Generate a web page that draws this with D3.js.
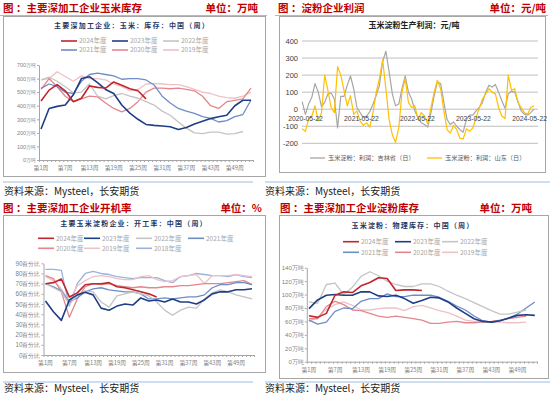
<!DOCTYPE html>
<html>
<head>
<meta charset="utf-8">
<script src="https://cdn.jsdelivr.net/npm/d3@7"></script>
<style>
  body { margin: 0; background: #fff; }
  svg { display: block; font-family: "Noto Sans CJK SC", "Noto Sans", sans-serif; }
</style>
</head>
<body>
<svg id="page" width="550" height="397"></svg>
<script>
// ---- data ----
// weekly charts: one value every two weeks (weeks 1,3,...,53)
const weeks = [1,3,5,7,9,11,13,15,17,19,21,23,25,27,29,31,33,35,37,39,41,43,45,47,49,51,53];
const weekTicks = [1, 7, 13, 19, 25, 31, 37, 43, 49];
const weekTickLabels = ['第1周','第7周','第13周','第19周','第25周','第31周','第37周','第43周','第49周'];

// 玉米库存 (万吨)
const cornStock2024 = [435,515,555,510,430,455,545,535,530,575,550,525,510,450,null,null,null,null,null,null,null,null,null,null,null,null,null];
const cornStock2023 = [228,380,395,405,480,600,614,570,520,490,405,345,300,262,255,250,245,225,240,265,285,305,318,330,400,440,440];
const cornStock2022 = [590,610,580,540,495,500,560,470,450,475,490,470,455,430,405,360,330,280,235,200,195,205,205,190,195,210,null];
const cornStock2021 = [528,560,540,500,490,580,630,640,630,620,595,600,600,590,553,470,420,380,360,344,320,307,280,290,320,335,442];
const cornStock2020 = [520,600,540,470,430,450,470,465,420,380,355,380,430,500,530,530,525,530,520,510,470,400,380,430,440,450,530];
const cornStock2019 = [590,600,650,615,580,620,600,600,590,560,540,510,520,560,565,560,555,555,540,520,500,490,470,460,455,470,500];

// 开机率 (%)
const rate2024 = [70,71,74.6,57,61,69,70,70,71,67,66,64,62,60,57,null,null,null,null,null,null,null,null,null,null,null,null];
const rate2023 = [53,42.5,34,54,59,61.5,59,46,44,48,50,49,56,53,54,52,55,52,52,50,54,60,62,62,64,64,65];
const rate2022 = [70,66,62,50,58,63,62,52,47,58,60,62,60,58,52,44,39,44,47,46,55,61,64,62,59,57,55];
const rate2021 = [70,67,63,52,56,62,65,66,64,63,62,62,60,55,55,56,55,56,57,57,59,66,69,69,71,71,69];
const rate2020 = [78,75,62,37,55,67,70,69,70,68,67,66,67,66,66,67,67,68,68,69,70,70,70,71,72,73,69];
const rate2019 = [77,73,65,52,68,73,77,78,77,75,74,74,77,78,74,72,73,77,78,79,70,78,78,78,79,78,77];
const rate2018 = [84,84,83,48,70,80,82,80,79,77,76,75,76,76,76,73,71,77,78,80,79,78,78,77,79,77,76];

// 淀粉库存 (万吨)
const starch2024 = [68.5,66,72,99,104,103,113,118,125,124,106,107,107,106,null,null,null,null,null,null,null,null,null,null,null,null,null];
const starch2023 = [79,92,99,100,99,99,104,104,98,97,99,94,87,91,96,95,89,80,72,64,60,59,61,65,69,70,69];
const starch2022 = [89,87,115,117,100,111,127,134,128,120,115,112,112,116,116,112,105,99,94,88,82,76,71,71,74,77,null];
const starch2021 = [62,56,59,75,80,79,90,94,94,101,97,97,99,99,99,96,90,83,77,68,61,59,61,65,71,80,89];
const starch2020 = [64,64,82,90,85,77,76,72,68,66,68,66,64,62,57,57,59,60,58,58,59,60,62,64,66,68,null];
const starch2019 = [60,66,78,85,89,84,77,77,79,80,80,76,82,84,80,76,73,68,62,60,60,59,59,58,58,59,null];

// 淀粉利润 (元/吨): one reading every 21 days from 2020-04-30
const profitStart = '2020-04-30';
const profitStepDays = 21;
const profitTicks = ['2020-05-22','2021-05-22','2022-05-22','2023-05-22','2024-05-22'];
const jilinProfit = [45,-30,30,70,150,100,15,40,90,95,60,-110,75,75,140,195,120,10,-20,-50,-40,-15,30,80,140,280,340,220,90,20,30,120,195,100,60,-10,-50,-80,-90,-105,-20,80,160,150,40,-60,-90,-75,-100,-120,-135,-60,-35,-35,-10,10,40,100,140,130,145,100,50,5,90,105,100,45,-10,-30,-35,-20,0];
const shandongProfit = [-115,-130,-60,-40,20,-70,-20,200,110,10,-20,250,200,110,20,80,-30,-10,-70,-95,-80,-105,-20,100,180,290,120,-60,-150,-195,-110,100,180,40,10,20,-60,-20,-40,-85,10,100,170,120,-10,-120,-140,-95,-120,-170,-175,-115,-130,-110,-50,5,60,90,120,100,90,10,-40,-55,200,110,120,40,10,-20,-30,10,20];

// ---- styles ----
const yearColor = {
  2024: '#C0262D', 2023: '#1F3E87', 2022: '#C4C4C4', 2021: '#6D8DC6',
  2020: '#E4878C', 2019: '#EDC2C6', 2018: '#9CB1DD'
};
const red = '#C00000';
const blueRule = '#9EBEE3';

const svg = d3.select('#page');
svg.append('rect').attr('width', 550).attr('height', 397).attr('fill', '#fff');

// ---- page furniture ----
function header(x, xr, y, title, unit) {
  svg.append('text').attr('x', x).attr('y', y).attr('font-size', 10.5).attr('font-weight', 700)
    .attr('fill', red).text(title);
  svg.append('text').attr('x', xr).attr('y', y).attr('font-size', 10.5).attr('font-weight', 700)
    .attr('fill', red).attr('text-anchor', 'end').text(unit);
}
function rule(x1, x2, y) {
  svg.append('line').attr('x1', x1).attr('x2', x2).attr('y1', y).attr('y2', y)
    .attr('stroke', blueRule).attr('stroke-width', 1);
}
function source(x, y) {
  svg.append('text').attr('x', x).attr('y', y).attr('font-size', 10).attr('fill', '#222')
    .text('资料来源：Mysteel，长安期货');
}
function frame(x1, y1, x2, y2) {
  svg.append('rect').attr('x', x1).attr('y', y1).attr('width', x2 - x1).attr('height', y2 - y1)
    .attr('fill', 'none').attr('stroke', '#A6A6A6').attr('stroke-width', 1);
}

header(3, 258, 12, '图 ：主要深加工企业玉米库存', '单位：万吨');
header(278, 546, 12, '图 ：淀粉企业利润', '单位：元/吨');
rule(0, 267, 15.5); rule(275, 548, 15.5);
frame(3.5, 16.5, 265.5, 176.5);
frame(279.5, 16.5, 545.5, 172.5);
rule(3, 253, 182); rule(265, 550, 182);
source(4, 195); source(265, 195);

header(3, 262, 211.5, '图 ：主要深加工企业开机率', '单位：%');
header(280, 532, 211.5, '图 ：主要深加工企业淀粉库存', '单位：万吨');
frame(3.5, 215.5, 265.5, 372.5);
frame(279.5, 215.5, 548.5, 378.5);
rule(3, 253, 382); rule(265, 550, 382);
source(4, 392); source(265, 392);

// ---- weekly seasonal chart ----
function weeklyChart(cfg) {
  const g = svg.append('g');
  const x = d3.scaleLinear().domain([0.5, 53.5]).range([cfg.x0, cfg.x1]);
  const y = d3.scaleLinear().domain([0, cfg.yMax]).range([cfg.yBottom, cfg.yTop]);

  g.append('text').attr('x', cfg.titleX).attr('y', cfg.titleY).attr('text-anchor', 'middle')
    .attr('font-size', 7).attr('font-weight', 700).attr('letter-spacing', 1.2)
    .attr('fill', '#1F3864').text(cfg.title);

  const yAxis = d3.axisLeft(y).tickValues(d3.range(0, cfg.yMax + 1, cfg.yStep))
    .tickSize(2).tickSizeOuter(0).tickFormat(d => d + cfg.unit);
  g.append('g').attr('transform', `translate(${cfg.x0},0)`).call(yAxis)
    .call(a => {
      a.select('.domain').attr('stroke', '#A6A6A6');
      a.selectAll('.tick line').attr('stroke', '#A6A6A6');
      a.selectAll('.tick text').attr('fill', '#7F7F7F').attr('font-size', cfg.yFont)
        .attr('font-family', null).attr('x', -3);
    });

  const xAxis = d3.axisBottom(x).tickValues(d3.range(0.5, 54, 1)).tickSize(2)
    .tickSizeOuter(0).tickFormat('');
  g.append('g').attr('transform', `translate(0,${cfg.yBottom})`).call(xAxis)
    .call(a => {
      a.select('.domain').attr('stroke', '#A6A6A6');
      a.selectAll('.tick line').attr('stroke', '#A6A6A6');
    });
  g.selectAll('.xl').data(weekTicks).join('text')
    .attr('x', d => x(d)).attr('y', cfg.xLabelY).attr('text-anchor', 'middle')
    .attr('font-size', 5.8).attr('fill', '#7F7F7F')
    .text((d, i) => weekTickLabels[i]);

  const line = d3.line().defined(d => d[1] != null).x(d => x(d[0])).y(d => y(d[1]));
  cfg.series.slice().reverse().forEach(s => {
    g.append('path').datum(weeks.map((w, i) => [w, s.values[i]]))
      .attr('d', line).attr('fill', 'none').attr('stroke', yearColor[s.year])
      .attr('stroke-width', s.year >= 2023 ? 1.6 : 1.3).attr('stroke-linejoin', 'round');
  });

  cfg.series.forEach((s, i) => {
    const col = i % cfg.legendCols.length, row = Math.floor(i / cfg.legendCols.length);
    const lx = cfg.legendCols[col], ly = cfg.legendRows[row];
    g.append('line').attr('x1', lx).attr('x2', lx + 16).attr('y1', ly).attr('y2', ly)
      .attr('stroke', yearColor[s.year]).attr('stroke-width', 1.6);
    g.append('text').attr('x', lx + 18).attr('y', ly + 2.2).attr('font-size', 6.5)
      .attr('fill', '#A6A6A6').text(s.year + '年度');
  });
}

weeklyChart({
  x0: 39, x1: 253, yBottom: 160, yTop: 65, yMax: 700, yStep: 100, unit: '万吨', yFont: 5.4,
  xLabelY: 170, title: '主要深加工企业：玉米：库存：中国（周）', titleX: 132, titleY: 28,
  legendCols: [61, 112, 163], legendRows: [41, 50],
  series: [
    { year: 2024, values: cornStock2024 }, { year: 2023, values: cornStock2023 },
    { year: 2022, values: cornStock2022 }, { year: 2021, values: cornStock2021 },
    { year: 2020, values: cornStock2020 }, { year: 2019, values: cornStock2019 }
  ]
});

weeklyChart({
  x0: 43.5, x1: 254, yBottom: 355, yTop: 263.3, yMax: 90, yStep: 10, unit: '百分比', yFont: 6.3,
  xLabelY: 364.5, title: '主要玉米淀粉企业：开工率：中国（周）', titleX: 134, titleY: 226,
  legendCols: [38, 84, 136, 188], legendRows: [238.3, 248.3],
  series: [
    { year: 2024, values: rate2024 }, { year: 2023, values: rate2023 },
    { year: 2022, values: rate2022 }, { year: 2021, values: rate2021 },
    { year: 2020, values: rate2020 }, { year: 2019, values: rate2019 },
    { year: 2018, values: rate2018 }
  ]
});

weeklyChart({
  x0: 306.8, x1: 537, yBottom: 361.7, yTop: 267.7, yMax: 140, yStep: 20, unit: '万吨', yFont: 6,
  xLabelY: 371.5, title: '玉米淀粉：物理库存：中国（周）', titleX: 413, titleY: 228,
  legendCols: [343, 395, 442], legendRows: [241.7, 252.3],
  series: [
    { year: 2024, values: starch2024 }, { year: 2023, values: starch2023 },
    { year: 2022, values: starch2022 }, { year: 2021, values: starch2021 },
    { year: 2020, values: starch2020 }, { year: 2019, values: starch2019 }
  ]
});

// ---- profit chart ----
(function profitChart() {
  const g = svg.append('g');
  const parse = d3.timeParse('%Y-%m-%d');
  const start = parse(profitStart);
  const dates = jilinProfit.map((v, i) => d3.timeDay.offset(start, i * profitStepDays));
  const x = d3.scaleTime().domain([parse('2020-04-29'), parse('2024-07-16')]).range([302, 538]);
  const y = d3.scaleLinear().domain([-200, 400]).range([143.3, 41]);
  const numFont = '"Liberation Sans", Arial, sans-serif';

  g.append('text').attr('x', 414).attr('y', 28).attr('text-anchor', 'middle')
    .attr('font-size', 8).attr('font-weight', 600).attr('fill', '#222').text('玉米淀粉生产利润：元/吨');

  const yTicks = d3.range(-200, 401, 100);
  g.selectAll('.grid').data(yTicks).join('line')
    .attr('x1', 302).attr('x2', 538).attr('y1', d => y(d)).attr('y2', d => y(d))
    .attr('stroke', '#BFBFBF').attr('stroke-width', 1);
  g.selectAll('.yl').data(yTicks).join('text')
    .attr('x', 298).attr('y', d => y(d) + 2.7).attr('text-anchor', 'end')
    .attr('font-family', numFont).attr('font-size', 7.5).attr('fill', '#404040').text(d => d);

  const line = d3.line().x((d, i) => x(dates[i])).y(d => y(d));
  g.append('path').datum(jilinProfit).attr('d', line).attr('fill', 'none')
    .attr('stroke', '#A6A6A6').attr('stroke-width', 1.2).attr('stroke-linejoin', 'round');
  g.append('path').datum(shandongProfit).attr('d', line).attr('fill', 'none')
    .attr('stroke', '#FFC000').attr('stroke-width', 1.2).attr('stroke-linejoin', 'round');

  g.selectAll('.xl').data(profitTicks).join('text')
    .attr('x', d => x(parse(d))).attr('y', 120.5).attr('text-anchor', 'middle')
    .attr('font-family', numFont).attr('font-size', 6.8).attr('fill', '#404040').text(d => d);

  const legend = [
    { x: 310, color: '#A6A6A6', label: '玉米淀粉：利润：吉林省（日）' },
    { x: 427, color: '#FFC000', label: '玉米淀粉：利润：山东（日）' }
  ];
  legend.forEach(l => {
    g.append('line').attr('x1', l.x).attr('x2', l.x + 15).attr('y1', 158).attr('y2', 158)
      .attr('stroke', l.color).attr('stroke-width', 1.3);
    g.append('text').attr('x', l.x + 18).attr('y', 160.2).attr('font-size', 6.2)
      .attr('fill', '#595959').text(l.label);
  });
})();
</script>
</body>
</html>
